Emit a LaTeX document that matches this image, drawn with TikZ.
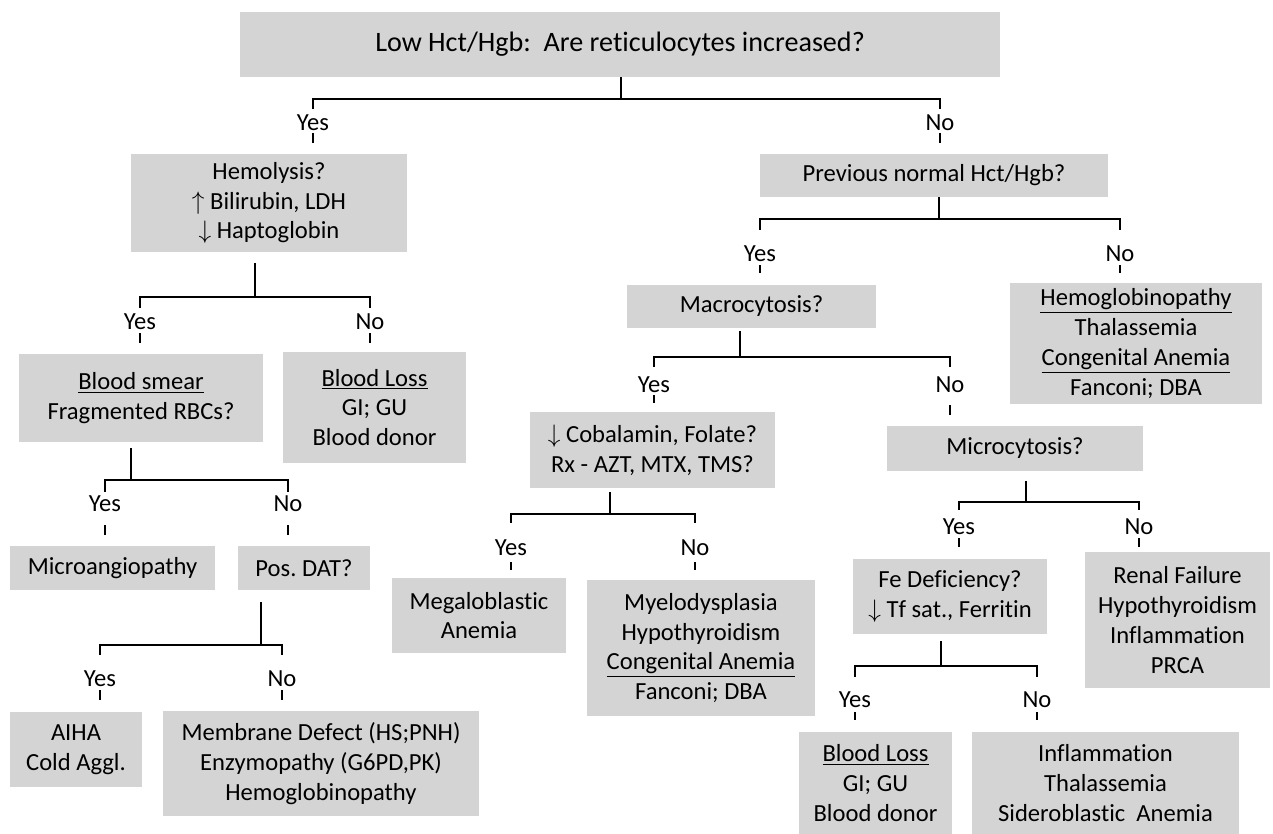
\documentclass[tikz,border=0pt]{standalone}
\usepackage{fontspec}
\setmainfont{Carlito}[Ligatures=NoCommon]
\usepackage{tikz}
\definecolor{boxgray}{RGB}{212,212,212}
\tikzstyle{cell} = [rectangle, fill=boxgray, align=center, inner sep=0pt, font=\fontsize{14}{17}\selectfont]
\tikzstyle{ans} = [inner sep=0pt, text height=9pt, text depth=0pt, font=\fontsize{14}{17}\selectfont]
\tikzstyle{link} = [line width=1.1pt]
\tikzstyle{stub} = [line width=0.9pt]

\begin{document}
\begin{tikzpicture}[x=0.02cm, y=-0.02cm]
\useasboundingbox (0,0) rectangle (1273,834);

\node(Top)[cell, minimum width=15.2cm, minimum height=1.3cm, font=\fontsize{16}{19}\selectfont] at (620,44.5) {Low Hct/Hgb:\ \ Are reticulocytes increased?};

\node(Hemo)[cell, minimum width=5.52cm, minimum height=1.96cm] at (269,203) {Hemolysis?\\ $\uparrow$ Bilirubin, LDH\\ $\downarrow$ Haptoglobin};
\node(Prev)[cell, minimum width=6.96cm, minimum height=0.86cm] at (934,175.5) {Previous normal Hct/Hgb?};

\node(Smear)[cell, minimum width=4.88cm, minimum height=1.76cm] at (141,398) {\underline{Blood smear}\\ Fragmented RBCs?};
\node(Loss)[cell, minimum width=3.66cm, minimum height=2.22cm] at (374.5,407.5) {\underline{Blood Loss}\\ GI; GU\\ Blood donor};
\node(Macro)[cell, minimum width=4.98cm, minimum height=0.86cm] at (751.5,306.5) {Macrocytosis?};
\node(Hgbp)[cell, minimum width=5.04cm, minimum height=2.42cm] at (1136,343.5) {\underline{Hemoglobinopathy}\\ Thalassemia\\ \underline{Congenital Anemia}\\ Fanconi; DBA};

\node(Angio)[cell, minimum width=4.1cm, minimum height=0.88cm] at (112.5,568) {Microangiopathy};
\node(DAT)[cell, minimum width=2.64cm, minimum height=0.88cm] at (304,568) {Pos.\ DAT?};
\node(Cobal)[cell, minimum width=4.9cm, minimum height=1.52cm] at (652.5,450) {$\downarrow$ Cobalamin, Folate?\\ Rx - AZT, MTX, TMS?};
\node(Microc)[cell, minimum width=5.12cm, minimum height=0.9cm] at (1015,448.5) {Microcytosis?};

\node(Megalo)[cell, minimum width=3.48cm, minimum height=1.5cm] at (479,615.5) {Megaloblastic\\ Anemia};
\node(Myelo)[cell, minimum width=4.56cm, minimum height=2.72cm] at (701,648) {Myelodysplasia\\ Hypothyroidism\\ \underline{Congenital Anemia}\\ Fanconi; DBA};
\node(FeDef)[cell, minimum width=3.88cm, minimum height=1.5cm] at (950,596.5) {Fe Deficiency?\\ $\downarrow$ Tf sat., Ferritin};
\node(Renal)[cell, minimum width=3.7cm, minimum height=2.72cm] at (1177.5,620) {Renal Failure\\ Hypothyroidism\\ Inflammation\\ PRCA};

\node(AIHA)[cell, minimum width=2.64cm, minimum height=1.5cm] at (76,749.5) {AIHA\\ Cold Aggl.};
\node(Memb)[cell, minimum width=6.32cm, minimum height=2.1cm] at (321,763.5) {Membrane Defect (HS;PNH)\\ Enzymopathy (G6PD,PK)\\ Hemoglobinopathy};
\node(Loss2)[cell, minimum width=3.06cm, minimum height=2.04cm] at (875.5,783) {\underline{Blood Loss}\\ GI; GU\\ Blood donor};
\node(Inflam)[cell, minimum width=5.34cm, minimum height=2.04cm] at (1105.5,783) {Inflammation\\ Thalassemia\\ Sideroblastic\ \ Anemia};

\node(YA)[ans] at (313,123) {Yes};
\node(NA)[ans] at (940,123) {No};
\node(YB)[ans] at (140,322) {Yes};
\node(NB)[ans] at (370,322) {No};
\node(YC)[ans] at (760,254) {Yes};
\node(NC)[ans] at (1120,254) {No};
\node(YD)[ans] at (105,504) {Yes};
\node(ND)[ans] at (288,504) {No};
\node(YE)[ans] at (654,385) {Yes};
\node(NE)[ans] at (950,385) {No};
\node(YF)[ans] at (511,548) {Yes};
\node(NF)[ans] at (695,548) {No};
\node(YG)[ans] at (959,527) {Yes};
\node(NG)[ans] at (1139,527) {No};
\node(YH)[ans] at (100,679) {Yes};
\node(NH)[ans] at (282,679) {No};
\node(YI)[ans] at (855,700) {Yes};
\node(NI)[ans] at (1037,700) {No};

\coordinate (jA) at (621,99);
\coordinate (jB) at (255,297);
\coordinate (jC) at (939,219);
\coordinate (jD) at (131,480);
\coordinate (jE) at (740,357);
\coordinate (jF) at (610,514);
\coordinate (jG) at (1026,502);
\coordinate (jH) at (261,645);
\coordinate (jI) at (941,666);

\draw [link] (jA) -- ++(0,-22);
\draw [link, shorten <=3.5pt, shorten >=3.5pt] (YA.north) |- (jA) -| (NA.north);
\draw [stub] (YA.south) ++(0,2.1) -- ++(0,10);
\draw [stub] (NA.south) ++(0,2.1) -- ++(0,10);

\draw [link] (jB) -- ++(0,-34);
\draw [link, shorten <=3.5pt, shorten >=3.5pt] (YB.north) |- (jB) -| (NB.north);
\draw [stub] (YB.south) ++(0,3.1) -- ++(0,10);
\draw [stub] (NB.south) ++(0,3.1) -- ++(0,10);

\draw [link] (jC) -- ++(0,-22);
\draw [link, shorten <=9.1pt, shorten >=9.1pt] (YC.north) |- (jC) -| (NC.north);
\draw [stub] (YC.south) ++(0,3.1) -- ++(0,8);
\draw [stub] (NC.south) ++(0,3.1) -- ++(0,8);

\draw [link] (jD) -- ++(0,-32);
\draw [link, shorten <=2.3pt, shorten >=2.3pt] (YD.north) |- (jD) -| (ND.north);
\draw [stub] (YD.south) ++(0,13.1) -- ++(0,10);
\draw [stub] (ND.south) ++(0,13.1) -- ++(0,10);

\draw [link] (jE) -- ++(0,-26);
\draw [link, shorten <=5.7pt, shorten >=5.7pt] (YE.north) |- (jE) -| (NE.north);
\draw [stub] (YE.south) ++(0,2.1) -- ++(0,8);
\draw [stub] (NE.south) ++(0,12.1) -- ++(0,10);

\draw [link] (jF) -- ++(0,-22);
\draw [link, shorten <=9.7pt, shorten >=9.7pt] (YF.north) |- (jF) -| (NF.north);
\draw [stub] (YF.south) ++(0,6.1) -- ++(0,8);
\draw [stub] (NF.south) ++(0,6.1) -- ++(0,8);

\draw [link] (jG) -- ++(0,-21);
\draw [link, shorten <=5.2pt, shorten >=5.2pt] (YG.north) |- (jG) -| (NG.north);
\draw [stub] (YG.south) ++(0,3.1) -- ++(0,9);
\draw [stub] (NG.south) ++(0,3.1) -- ++(0,9);

\draw [link] (jH) -- ++(0,-43);
\draw [link, shorten <=9.1pt, shorten >=9.1pt] (YH.north) |- (jH) -| (NH.north);
\draw [stub] (YH.south) ++(0,3.1) -- ++(0,10);
\draw [stub] (NH.south) ++(0,3.1) -- ++(0,10);

\draw [link] (jI) -- ++(0,-25);
\draw [link, shorten <=8.6pt, shorten >=8.6pt] (YI.north) |- (jI) -| (NI.north);
\draw [stub] (YI.south) ++(0,4.1) -- ++(0,8);
\draw [stub] (NI.south) ++(0,4.1) -- ++(0,8);

\end{tikzpicture}
\end{document}
